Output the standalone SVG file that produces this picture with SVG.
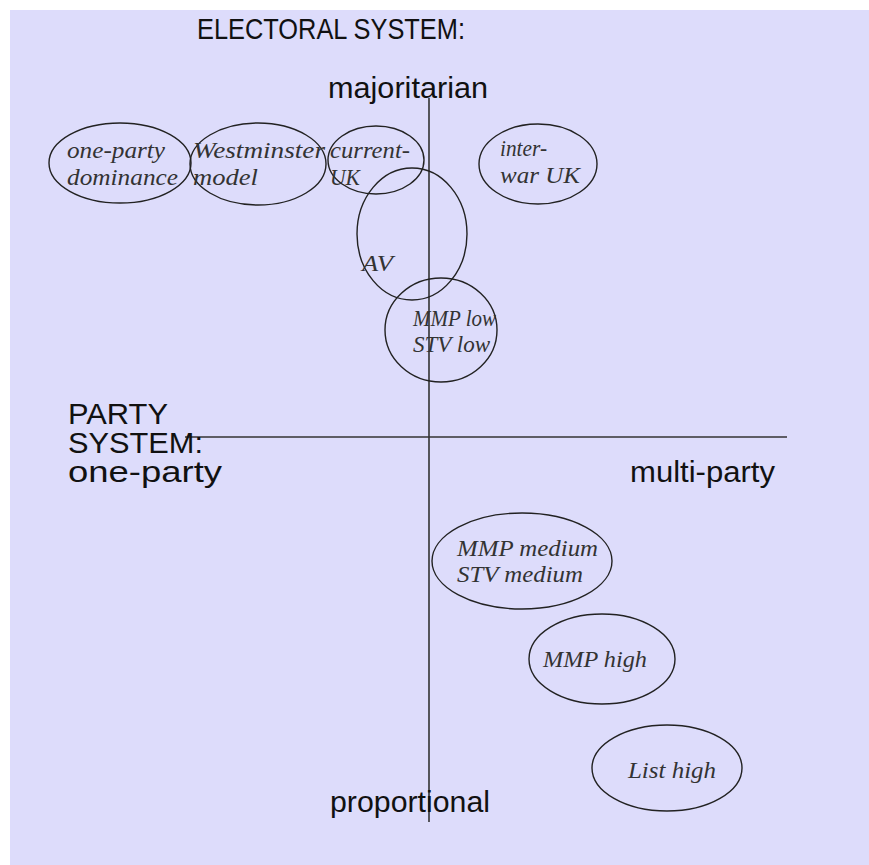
<svg xmlns="http://www.w3.org/2000/svg" width="869" height="865" viewBox="0 0 869 865">
<style>
.lab{font-family:"Liberation Sans",Arial,sans-serif;font-size:29px;fill:#111}
.nt{font-family:"Liberation Serif","Times New Roman",serif;font-style:italic;font-size:24px;fill:#333}
.el{fill:none;stroke:#222;stroke-width:1.4}
.ax{stroke:#333;stroke-width:1.6}
</style>
<rect x="0" y="0" width="869" height="865" fill="#ffffff"/>
<rect x="10" y="10" width="859" height="855" fill="#dddcfb"/>
<g id="connectors">
<line class="ax" x1="429" y1="98" x2="429" y2="822"/>
<line class="ax" x1="185" y1="437" x2="787" y2="437"/>
</g>
<g id="labels">
<text class="lab" x="197" y="39" textLength="268" lengthAdjust="spacingAndGlyphs">ELECTORAL SYSTEM:</text>
<text class="lab" x="328" y="98" textLength="160" lengthAdjust="spacingAndGlyphs">majoritarian</text>
<text class="lab" x="68" y="424" textLength="100" lengthAdjust="spacingAndGlyphs">PARTY</text>
<text class="lab" x="68" y="453" textLength="135" lengthAdjust="spacingAndGlyphs">SYSTEM:</text>
<text class="lab" x="68" y="482" textLength="154" lengthAdjust="spacingAndGlyphs">one-party</text>
<text class="lab" x="630" y="482" textLength="145" lengthAdjust="spacingAndGlyphs">multi-party</text>
<text class="lab" x="330" y="812" textLength="160" lengthAdjust="spacingAndGlyphs">proportional</text>
</g>
<g id="n-oneparty">
<ellipse class="el" cx="120" cy="163" rx="71" ry="40"/>
<text class="nt" x="67" y="158" textLength="98" lengthAdjust="spacingAndGlyphs">one-party</text>
<text class="nt" x="67" y="185" textLength="111" lengthAdjust="spacingAndGlyphs">dominance</text>
</g>
<g id="n-westminster">
<ellipse class="el" cx="258" cy="164" rx="68" ry="41"/>
<text class="nt" x="193" y="158" textLength="132" lengthAdjust="spacingAndGlyphs">Westminster</text>
<text class="nt" x="193" y="185" textLength="65" lengthAdjust="spacingAndGlyphs">model</text>
</g>
<g id="n-currentuk">
<ellipse class="el" cx="376" cy="160" rx="48" ry="34"/>
<text class="nt" x="330" y="158" textLength="80" lengthAdjust="spacingAndGlyphs">current-</text>
<text class="nt" x="330" y="185" textLength="30" lengthAdjust="spacingAndGlyphs">UK</text>
</g>
<g id="n-interwar">
<ellipse class="el" cx="538" cy="164" rx="59" ry="40"/>
<text class="nt" x="500" y="156" textLength="47" lengthAdjust="spacingAndGlyphs">inter-</text>
<text class="nt" x="500" y="183" textLength="80" lengthAdjust="spacingAndGlyphs">war UK</text>
</g>
<g id="n-av">
<ellipse class="el" cx="412" cy="234" rx="55" ry="66"/>
<text class="nt" x="362" y="271" textLength="31" lengthAdjust="spacingAndGlyphs">AV</text>
</g>
<g id="n-mmplow">
<ellipse class="el" cx="441" cy="330" rx="56" ry="52"/>
<text class="nt" x="413" y="326" textLength="83" lengthAdjust="spacingAndGlyphs">MMP low</text>
<text class="nt" x="413" y="352" textLength="77" lengthAdjust="spacingAndGlyphs">STV low</text>
</g>
<g id="n-mmpmedium">
<ellipse class="el" cx="522" cy="561" rx="90" ry="48"/>
<text class="nt" x="457" y="556" textLength="141" lengthAdjust="spacingAndGlyphs">MMP medium</text>
<text class="nt" x="457" y="582" textLength="126" lengthAdjust="spacingAndGlyphs">STV medium</text>
</g>
<g id="n-mmphigh">
<ellipse class="el" cx="602" cy="659" rx="73" ry="45"/>
<text class="nt" x="543" y="667" textLength="104" lengthAdjust="spacingAndGlyphs">MMP high</text>
</g>
<g id="n-listhigh">
<ellipse class="el" cx="667" cy="768" rx="75" ry="43"/>
<text class="nt" x="628" y="778" textLength="88" lengthAdjust="spacingAndGlyphs">List high</text>
</g>
</svg>
